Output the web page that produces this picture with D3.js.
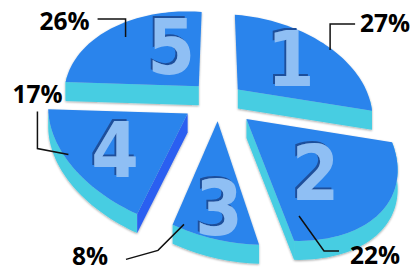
<!DOCTYPE html>
<html>
<head>
<meta charset="utf-8">
<script src="https://cdn.jsdelivr.net/npm/d3@7"></script>
<style>
  html, body { margin: 0; padding: 0; background: #fff; }
  svg { display: block; }
</style>
</head>
<body>
<div id="chart"></div>
<script>
// data
const sliceNames = ['1', '2', '3', '4', '5'];
const shares = [27, 22, 8, 17, 26];
const shareLabels = ['27%', '22%', '8%', '17%', '26%'];

const width = 417, height = 272;

// pie lies on a tilted plane, projected with a little perspective;
// lean pushes the near half to the right like the clipart does
const view = { cx: 218, cy: 100, sx: 135, sy: 92, persp: 0.18, shear: 10, lean: 24, depth: 19 };
const explode = [0.2, 0.25, 0.23, 0.3, 0.2];

// where the big numbers sit (fraction of slice angle, radius)
const numberAt = [
  { at: 0.48, r: 0.61 },
  { at: 0.57, r: 0.58 },
  { at: 0.45, r: 0.77 },
  { at: 0.46, r: 0.67 },
  { at: 0.71, r: 0.52 }
];

// leader lines: where they touch the slice, bends, text offset
const leaders = [
  { at: 0.55, r: 0.98, bends: [[0, -26], [25, -26]], text: [5, 8], anchor: 'start' },
  { at: 0.92, r: 0.83, bends: [[25, 35], [40, 35]], text: [11, 13], anchor: 'start' },
  { at: 0.88, r: 0.965, bends: [[-26, 26], [-58, 35]], text: [-18, 6], anchor: 'end' },
  { at: 0.58, r: 0.97, bends: [[-31, -6], [-31, -43]], text: [0, -9], anchor: 'middle' },
  { at: 0.48, r: 0.83, bends: [[0, -18], [-28, -18]], text: [-8, 11], anchor: 'end' }
];

const colors = { top: '#2a84ec', wall: '#46cde2', wallSide: '#2c5ef1', digit: '#8fbff4', digitShade: '#1f4f9c' };

const pie = d3.pie().sort(null).value(d => d)(shares);

function project(u, v) {
  const w = 1 + view.persp * v;
  const near = Math.max(0, -v);
  return [view.cx + (view.sx * u + view.lean * near) / w, view.cy + (-view.sy * v + view.shear * u) / w];
}

function pt(i, a, r, drop = 0) {
  const p = pie[i];
  const mid = (p.startAngle + p.endAngle) / 2;
  const e = explode[i];
  const xy = project(e * Math.sin(mid) + r * Math.sin(a), e * Math.cos(mid) + r * Math.cos(a));
  return [xy[0], xy[1] + drop];
}

function arcPts(i, a0, a1, drop) {
  const n = Math.max(2, Math.ceil((a1 - a0) / 0.03));
  return d3.range(n + 1).map(k => pt(i, a0 + (a1 - a0) * k / n, 1, drop));
}

const angleAt = (p, f) => p.startAngle + (p.endAngle - p.startAngle) * f;

const svg = d3.select('#chart').append('svg')
  .attr('width', width)
  .attr('height', height);

const defs = svg.append('defs');
const soft = defs.append('filter').attr('id', 'soft')
  .attr('x', '-10%').attr('y', '-10%').attr('width', '120%').attr('height', '120%');
soft.append('feDropShadow')
  .attr('dx', 0).attr('dy', 1).attr('stdDeviation', 1.2)
  .attr('flood-color', '#000').attr('flood-opacity', 0.35);

// dark edge on the top-left of the numbers
const emboss = defs.append('filter').attr('id', 'emboss')
  .attr('x', '-20%').attr('y', '-20%').attr('width', '140%').attr('height', '140%');
emboss.append('feFlood').attr('flood-color', colors.digitShade).attr('result', 'ink');
emboss.append('feComposite').attr('in', 'ink').attr('in2', 'SourceAlpha').attr('operator', 'in').attr('result', 'shade');
emboss.append('feOffset').attr('in', 'shade').attr('dx', -2.5).attr('dy', -2.5).attr('result', 'shifted');
const merge = emboss.append('feMerge');
merge.append('feMergeNode').attr('in', 'shifted');
merge.append('feMergeNode').attr('in', 'SourceGraphic');

const line = d3.line().curve(d3.curveLinearClosed);

// far slices first
const tipDepth = i => {
  const p = pie[i];
  return explode[i] * Math.cos((p.startAngle + p.endAngle) / 2);
};
const order = d3.range(pie.length).sort((a, b) => tipDepth(b) - tipDepth(a));

const D = view.depth;

order.forEach(i => {
  const p = pie[i];
  const a0 = p.startAngle, a1 = p.endAngle;
  const g = svg.append('g').attr('class', 'slice').attr('filter', 'url(#soft)');

  // outer rim, only the part facing us
  const lo = Math.max(a0, Math.PI / 2), hi = Math.min(a1, Math.PI * 1.5);
  if (lo < hi) {
    g.append('path')
      .attr('d', line(arcPts(i, lo, hi, 0).concat(arcPts(i, lo, hi, D).reverse())))
      .attr('fill', colors.wall);
  }

  // cut faces
  const faces = [
    { a: a0, n: [-Math.cos(a0), Math.sin(a0)] },
    { a: a1, n: [Math.cos(a1), -Math.sin(a1)] }
  ];
  faces.forEach(f => {
    if (f.n[1] > -1e-6) return;
    g.append('path')
      .attr('d', line([pt(i, f.a, 0), pt(i, f.a, 1), pt(i, f.a, 1, D), pt(i, f.a, 0, D)]))
      .attr('fill', f.n[0] > 0.5 ? colors.wallSide : colors.wall);
  });

  // top
  g.append('path')
    .attr('d', line([pt(i, 0, 0)].concat(arcPts(i, a0, a1, 0))))
    .attr('fill', colors.top);

  // slice number
  const c = pt(i, angleAt(p, numberAt[i].at), numberAt[i].r);
  svg.append('text')
    .attr('x', c[0])
    .attr('y', c[1] + 27)
    .attr('text-anchor', 'middle')
    .attr('filter', 'url(#emboss)')
    .style('font-family', '"Liberation Sans Narrow", "DejaVu Sans Condensed", sans-serif')
    .style('font-weight', 'bold')
    .style('font-size', '76px')
    .attr('fill', colors.digit)
    .text(sliceNames[i]);
});

// percentage labels with leader lines
pie.forEach((p, i) => {
  const L = leaders[i];
  const start = pt(i, angleAt(p, L.at), L.r);
  const pts = [start].concat(L.bends.map(b => [start[0] + b[0], start[1] + b[1]]));
  svg.append('path')
    .attr('d', d3.line()(pts))
    .attr('fill', 'none')
    .attr('stroke', '#111')
    .attr('stroke-width', 1.5);
  const end = pts[pts.length - 1];
  svg.append('text')
    .attr('x', end[0] + L.text[0])
    .attr('y', end[1] + L.text[1])
    .attr('text-anchor', L.anchor)
    .style('font-family', '"Open Sans", sans-serif')
    .style('font-weight', 700)
    .style('font-size', '24.5px')
    .attr('fill', '#000')
    .text(shareLabels[i]);
});
</script>
</body>
</html>
